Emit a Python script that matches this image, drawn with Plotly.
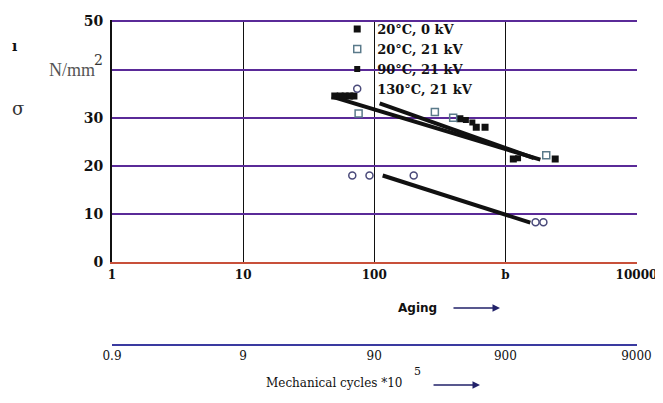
import plotly.graph_objects as go
import numpy as np

# ---- data ----
s1_name = "20°C, 0 kV"
s1_x = [50, 55, 60, 65, 70, 450, 600, 700, 1150, 2400]
s1_y = [34.5, 34.5, 34.5, 34.5, 34.5, 29.8, 28.0, 28.0, 21.4, 21.4]

s2_name = "20°C, 21 kV"
s2_x = [76, 290, 400, 2050]
s2_y = [30.9, 31.2, 30.0, 22.2]

s3_name = "90°C, 21 kV"
s3_x = [500, 560, 1250]
s3_y = [29.5, 29.0, 21.6]

s4_name = "130°C, 21 kV"
s4_x = [68, 92, 200, 1700, 1950]
s4_y = [18.0, 18.0, 18.0, 8.3, 8.3]

fit_a_x = [47.5, 1850]
fit_a_y = [34.4, 21.3]
fit_b_x = [110, 1650]
fit_b_y = [33.0, 21.6]
fit_c_x = [116, 1550]
fit_c_y = [18.0, 8.2]

x_ticks = [1, 10, 100, 1000, 10000]
x_ticktext = ["1", "10", "100", "b", "10000"]
y_ticks = [0, 10, 20, 30, 40, 50]
y_ticktext = ["0", "10", "20", "30", "", "50"]
x2_ticks = [0.9, 9, 90, 900, 9000]
x2_ticktext = ["0.9", "9", "90", "900", "9000"]

serif = "DejaVu Serif"
fig = go.Figure()

for fx, fy in [(fit_a_x, fit_a_y), (fit_b_x, fit_b_y), (fit_c_x, fit_c_y)]:
    fig.add_trace(go.Scatter(x=fx, y=fy, mode="lines", showlegend=False,
                             line=dict(color="#111111", width=4), hoverinfo="skip"))

fig.add_trace(go.Scatter(x=s1_x, y=s1_y, mode="markers", name=s1_name,
                         marker=dict(symbol="square", size=7, color="#111111")))
fig.add_trace(go.Scatter(x=s2_x, y=s2_y, mode="markers", name=s2_name,
                         marker=dict(symbol="square-open", size=7, color="#5a7a8a",
                                     line=dict(width=1.5))))
fig.add_trace(go.Scatter(x=s3_x, y=s3_y, mode="markers", name=s3_name,
                         marker=dict(symbol="square", size=6, color="#111111")))
fig.add_trace(go.Scatter(x=s4_x, y=s4_y, mode="markers", name=s4_name,
                         marker=dict(symbol="circle-open", size=7, color="#4a4a7a",
                                     line=dict(width=1.5))))
# dummy trace so the mechanical-cycles axis is drawn
fig.add_trace(go.Scatter(x=[x2_ticks[0]], y=[None], xaxis="x2", mode="markers",
                         showlegend=False, hoverinfo="skip"))

# page body has an 8px margin, so the figure is 8px smaller than the window
fig.update_layout(
    width=655, height=395,
    margin=dict(l=104, r=26, t=12, b=58, autoexpand=False),
    paper_bgcolor="white", plot_bgcolor="white",
    font=dict(family=serif, color="#111111", size=13),
    xaxis=dict(type="log", range=[0, 4.004], tickvals=x_ticks, ticktext=x_ticktext,
               showgrid=True, gridcolor="#111111", gridwidth=1,
               showline=True, linecolor="#c8503a", linewidth=2,
               ticks="", zeroline=False, automargin=False,
               tickfont=dict(family=serif, size=12, color="#111111", weight="bold")),
    yaxis=dict(range=[0, 50.3], tickvals=y_ticks, ticktext=y_ticktext, domain=[0.255, 1],
               showgrid=True, gridcolor="#5a2a98", gridwidth=2,
               showline=True, linecolor="#111111", linewidth=2,
               ticks="", zeroline=False, automargin=False, ticklabelstandoff=4,
               tickfont=dict(family=serif, size=14, color="#111111", weight="bold")),
    xaxis2=dict(type="log", range=[np.log10(0.9), np.log10(9000) + 0.004],
                overlaying="x", anchor="free", position=0, side="bottom",
                tickvals=x2_ticks, ticktext=x2_ticktext, showgrid=False,
                showline=True, linecolor="#3a3aa0", linewidth=2, ticks="",
                zeroline=False, automargin=False,
                tickfont=dict(family=serif, size=12, color="#111111")),
    legend=dict(x=0.429, y=1.018, xanchor="left", yanchor="top",
                bgcolor="rgba(255,255,255,0)", borderwidth=0,
                font=dict(family=serif, size=13, color="#111111", weight="bold"),
                tracegroupgap=0),
    showlegend=True,
)

ann = [
    dict(text="σ", x=-0.179, y=0.729, font=dict(size=18, family=serif, color="#333333")),
    dict(text="N/mm", x=-0.076, y=0.846, font=dict(size=18, family="Liberation Serif", color="#555555")),
    dict(text="2", x=-0.025, y=0.877, font=dict(size=14, family=serif, color="#333333")),
    dict(text="ı", x=-0.185, y=0.92, font=dict(size=14, family=serif, color="#111111", weight="bold")),
    dict(text="Aging", x=0.581, y=0.114, font=dict(size=12, family="DejaVu Sans", color="#111111", weight="bold")),
    dict(text="Mechanical cycles *10", x=0.423, y=-0.117, font=dict(size=12, family=serif, color="#111111")),
    dict(text="5", x=0.581, y=-0.083, font=dict(size=11, family=serif, color="#111111")),
]
for a in ann:
    fig.add_annotation(xref="paper", yref="paper", showarrow=False,
                       xanchor="center", yanchor="middle", **a)

fig.add_annotation(xref="paper", yref="paper", x=0.739, y=0.114, ax=-48, ay=0,
                   text="", showarrow=True, arrowhead=2, arrowwidth=1.5,
                   arrowcolor="#22226a")
fig.add_annotation(xref="paper", yref="paper", x=0.701, y=-0.123, ax=-48, ay=0,
                   text="", showarrow=True, arrowhead=2, arrowwidth=1.5,
                   arrowcolor="#22226a")

fig.write_html("out.html")
